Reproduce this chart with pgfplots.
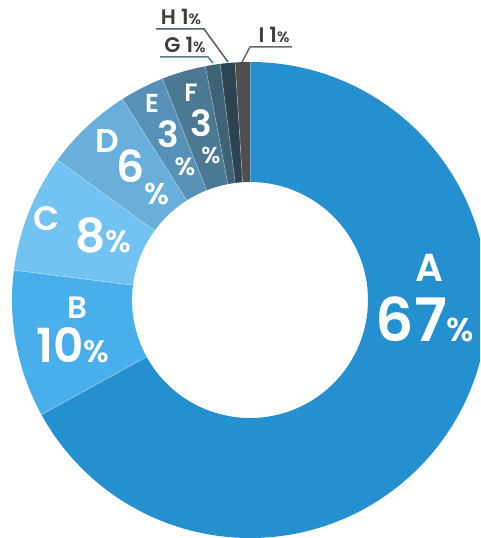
\documentclass[border=0pt]{standalone}
\usepackage{fontspec}
\setmainfont{Poppins}[BoldFont={* SemiBold}]
\usepackage{pgfplots}
\usepackage{pgfplotstable}
\pgfplotsset{compat=1.18}

\definecolor{cA}{HTML}{2490D0}
\definecolor{cB}{HTML}{48AFEA}
\definecolor{cC}{HTML}{72C3F1}
\definecolor{cD}{HTML}{68AFDC}
\definecolor{cE}{HTML}{5891B8}
\definecolor{cF}{HTML}{4B7892}
\definecolor{cG}{HTML}{3E6276}
\definecolor{cH}{HTML}{2E4352}
\definecolor{cI}{HTML}{4F4F4F}
\definecolor{txtgrey}{HTML}{3D3D3D}

% share of each slice, clockwise from the top
\pgfplotstableread{
name value color
A 67 cA
B 10 cB
C 8  cC
D 6  cD
E 3  cE
F 3  cF
G 1  cG
H 1  cH
I 1  cI
}\shares

\newcommand\fs[1]{\fontsize{#1}{#1}\selectfont}

\begin{document}
\begin{tikzpicture}
\begin{axis}[
    width=480pt, height=538pt, scale only axis,
    xmin=0, xmax=480, ymin=0, ymax=538,
    hide axis, disabledatascaling,
]
\coordinate (bl) at (axis cs:0,0);
\coordinate (tr) at (axis cs:480,538);
\pgfplotsextra{
  \begin{scope}
  \clip (axis cs:0,0) rectangle (axis cs:480,538);
  \gdef\startang{90}
  \foreach \i in {0,...,8}{
    \pgfplotstablegetelem{\i}{value}\of\shares \let\val\pgfplotsretval
    \pgfplotstablegetelem{\i}{color}\of\shares \let\col\pgfplotsretval
    \pgfmathsetmacro\endang{\startang-3.6*\val}
    \fill[\col, shift={(axis cs:250,238)}]
      (\startang:238pt) arc[start angle=\startang, end angle=\endang, radius=238pt]
      -- (\endang:118pt) arc[start angle=\endang, end angle=\startang, radius=118pt] -- cycle;
    \draw[white, opacity=0.35, line width=0.7pt, shift={(axis cs:250,238)}]
      (\startang:118pt) -- (\startang:238pt);
    \xdef\startang{\endang}
  }
  \end{scope}
}
% labels inside the ring
\begin{scope}[every node/.style={text=white, font=\bfseries, anchor=base, inner sep=0pt}]
\node at (axis cs:429,256) {\fs{39}A};
\node at (axis cs:425,196) {\fs{60}67\fs{33}\%};
\node at (axis cs:77,219) {\fs{31}B};
\node at (axis cs:73,175) {\fs{47}10\fs{31}\%};
\node at (axis cs:47,307) {\fs{34}C};
\node at (axis cs:103,285) {\fs{47}8\fs{31}\%};
\node at (axis cs:107,385) {\fs{33}D};
\node at (axis cs:131,355) {\fs{44}6};
\node at (axis cs:157,333) {\fs{30}\%};
\node at (axis cs:152,425) {\fs{26}E};
\node at (axis cs:168,390) {\fs{36}3};
\node at (axis cs:185,362) {\fs{25}\%};
\node at (axis cs:191,436) {\fs{25}F};
\node at (axis cs:201,401) {\fs{36}3};
\node at (axis cs:211,374) {\fs{23}\%};
\end{scope}
% small slices labelled outside
\draw[cH!85!white, line width=1.5pt] (axis cs:156,509) -- (axis cs:204,509) -- (axis cs:228,476);
\draw[cG!85!white, line width=1.5pt] (axis cs:160,481) -- (axis cs:208,481) -- (axis cs:213,475);
\draw[cI!85!white, line width=1.5pt] (axis cs:292,491) -- (axis cs:250,491) -- (axis cs:242,476);
\begin{scope}[every node/.style={text=txtgrey, font=\bfseries, anchor=base, inner sep=0pt}]
\node at (axis cs:181,513) {\fs{21}H 1\fs{15}\%};
\node at (axis cs:185,485) {\fs{21}G 1\fs{15}\%};
\node at (axis cs:274,495) {\fs{21}I 1\fs{15}\%};
\end{scope}
\end{axis}
\pgfresetboundingbox
\path[use as bounding box] (bl) rectangle (tr);
\end{tikzpicture}
\end{document}
